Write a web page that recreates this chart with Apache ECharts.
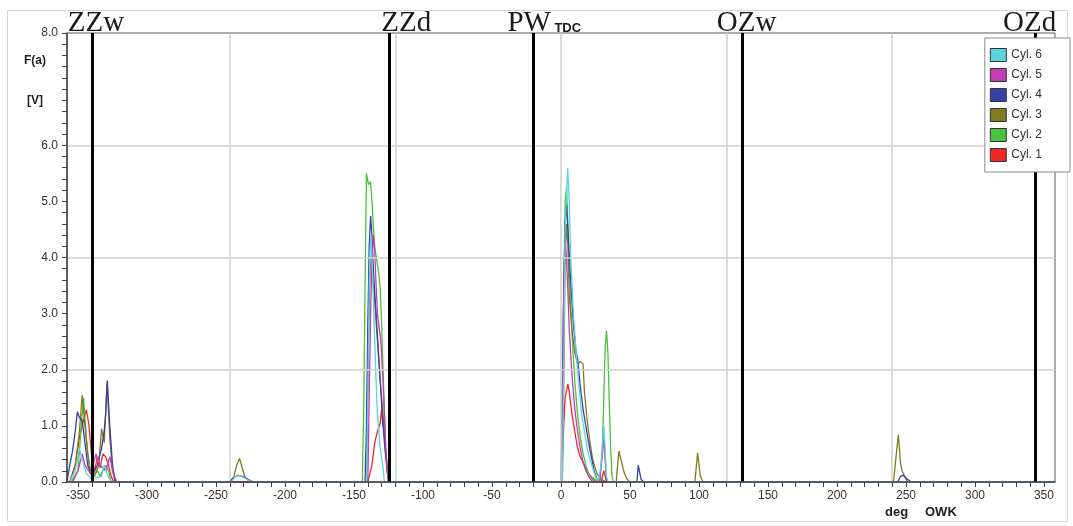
<!DOCTYPE html>
<html><head><meta charset="utf-8">
<script src="https://cdn.jsdelivr.net/npm/echarts@6/dist/echarts.min.js"></script>
<style>html,body{margin:0;padding:0;background:#fff}#c{width:1073px;height:526px}</style>
</head><body><div id="c"></div>
<script>
// ---- data ----
const seriesNames = ['Cyl. 1','Cyl. 2','Cyl. 3','Cyl. 4','Cyl. 5','Cyl. 6'];
const legendOrder = ['Cyl. 6','Cyl. 5','Cyl. 4','Cyl. 3','Cyl. 2','Cyl. 1'];
const seriesColors = ['#f02828','#48c23a','#827a1e','#3442a8','#c23cb4','#5ad2e0'];

const cyl1 = [[-358,0],[-356,0],[-352,0.3],[-349,0.8],[-346,1.1],[-344,1.29],[-342,1.0],[-340,0.4],[-338,0.2],[-336,0.45],[-334,0.25],[-332,0.5],[-330,0.45],[-328,0.3],[-326,0.1],[-324,0],
  [-140,0],[-137,0.3],[-135,0.7],[-133,0.9],[-131,1.05],[-130,1.3],[-129,1.0],[-128,0.9],[-127,0.5],[-125,0.1],[-124,0],
  [0,0],[1,0.4],[2,1.0],[3,1.5],[5,1.75],[6,1.6],[8,1.2],[10,0.9],[12,0.6],[14,0.45],[16,0.35],[18,0.25],[20,0.15],[22,0.08],[25,0],[29,0],[31,0.2],[33,0],[358,0]];
const cyl2 = [[-358,0],[-355,0],[-350,0.2],[-348,0.9],[-346,1.5],[-344,0.8],[-342,0.3],[-340,0.1],[-336,0.2],[-334,0.1],[-330,0.3],[-328,0.2],[-326,0],
  [-144,0],[-143,1.2],[-142,3.5],[-141,5.5],[-139.5,5.3],[-138,5.35],[-137,5.0],[-136,4.56],[-135,4.2],[-133.5,3.95],[-132,3.7],[-131,3.45],[-130,2.8],[-129,2.0],[-128,1.3],[-127,0.6],[-126,0.3],[-125,0.1],[-124,0],
  [0,0],[1,1.5],[2,3.5],[3,5.0],[4,5.25],[5,4.6],[6,3.8],[7,3.2],[8,2.6],[10,1.8],[12,1.2],[14,0.8],[16,0.5],[18,0.3],[20,0.15],[24,0.05],[28,0],[30,0.6],[31,1.5],[32,2.4],[33,2.7],[34,2.3],[35,1.4],[36,0.6],[37,0.1],[38,0],[358,0]];
const cyl3 = [[-358,0],[-356,0],[-352,0.3],[-349,0.9],[-347,1.55],[-345,1.0],[-343,0.5],[-341,0.2],[-338,0.1],[-335,0.3],[-333,0.95],[-331,0.7],[-329,1.78],[-327,0.8],[-325,0.2],[-323,0],
  [-240,0],[-237,0.1],[-235,0.3],[-233,0.42],[-231,0.25],[-229,0.08],[-226,0.02],[-222,0],
  [-141,0],[-140,1.5],[-139,3.2],[-138,4.0],[-137,3.8],[-135,3.2],[-133,2.5],[-131,1.8],[-129,1.2],[-127,0.5],[-125,0],
  [1,0],[2,1.8],[3,4.0],[4,4.6],[5,4.2],[6,3.3],[8,2.7],[10,2.3],[12,2.1],[14,2.15],[16,2.1],[17,1.6],[19,1.1],[21,0.7],[23,0.4],[26,0.15],[29,0.05],[33,0],
  [40,0],[41,0.3],[42,0.55],[44,0.35],[46,0.15],[48,0.05],[50,0],
  [97,0],[99,0.52],[101,0.1],[103,0],
  [241,0],[243,0.5],[244.5,0.84],[246,0.35],[247,0.21],[249,0.1],[251,0],[358,0]];
const cyl4 = [[-358,0],[-356,0.3],[-354,0.55],[-352,0.9],[-350.5,1.25],[-349,1.15],[-347,1.1],[-345,0.7],[-343,0.3],[-340,0.1],[-336,0.3],[-333,0.6],[-331,0.92],[-330,1.2],[-328.8,1.81],[-327,1.0],[-325,0.3],[-323,0],
  [-240,0],[-237,0.08],[-234,0.12],[-231,0.1],[-227,0.05],[-223,0],
  [-142,0],[-141,1.0],[-140,2.8],[-139,4.2],[-138,4.74],[-137,4.4],[-136,3.8],[-134,3.0],[-132,2.2],[-130,1.4],[-128,0.7],[-126,0.2],[-125,0],
  [0,0],[1,1.2],[2,3.4],[3,4.6],[4,4.95],[5,4.5],[7,3.6],[9,2.8],[11,2.3],[12,2.2],[14,1.7],[16,1.3],[18,1.0],[20,0.7],[22,0.45],[24,0.2],[26,0.05],[28,0],
  [55,0],[56,0.3],[58,0.05],[60,0],
  [244,0],[246,0.1],[248,0.12],[251,0.05],[254,0],[358,0]];
const cyl5 = [[-358,0],[-354,0],[-350,0.2],[-347,0.5],[-345,0.3],[-341,0.15],[-337,0.5],[-334,0.3],[-330,0.2],[-327,0.45],[-325,0.2],[-322,0],
  [-140,0],[-139,1.5],[-138,3.0],[-137,4.0],[-136,4.4],[-135,4.1],[-134,3.5],[-133,3.0],[-131,2.6],[-130.3,2.42],[-129,1.8],[-128,1.2],[-127,0.6],[-126,0.2],[-125,0],
  [0,0],[1,1.5],[2,3.5],[3,4.3],[4,4.0],[5,3.4],[6,2.7],[8,1.9],[10,1.3],[12,0.9],[14,0.6],[16,0.35],[18,0.2],[20,0.1],[23,0],[28,0],[30,0.5],[31,0.8],[32,0.4],[33,0],[358,0]];
const cyl6 = [[-358,0],[-356,0],[-352,0.2],[-349,0.6],[-347,0.4],[-344,0.15],[-340,0.05],[-333,0.1],[-331,0.3],[-329,0.15],[-326,0],
  [-239,0],[-236,0.1],[-233,0.12],[-230,0.08],[-226,0.03],[-222,0],
  [-141,0],[-140,1.5],[-139,3.5],[-138,4.4],[-137,4.0],[-136,3.3],[-135,2.5],[-134,1.8],[-133,1.2],[-131,0.6],[-129,0.25],[-128,0],
  [1,0],[2,2.0],[3,4.5],[4.8,5.6],[6,5.0],[7,4.0],[9,3.0],[11,2.3],[13,1.7],[15,1.2],[17,0.9],[19,0.6],[21,0.4],[23,0.25],[25,0.1],[27,0],[29,0.3],[31,1.0],[32,0.6],[33,0.1],[34,0],[358,0]];
const cylData = [cyl1, cyl2, cyl3, cyl4, cyl5, cyl6];

const markerNames = ['ZZw','ZZd','PW','OZw','OZd'];
const markerDeg = [-340,-124.5,-20,131,343.5];
const markerSub = ['','','TDC','',''];
const gridDeg = [-240,-120,0,120,240];
const gridVal = [2,4,6];

const xLabelValues = [-350,-300,-250,-200,-150,-100,-50,0,50,100,150,200,250,300,350];
const xTickValues = [-350,-340,-330,-320,-310,-300,-290,-280,-270,-260,-250,-240,-230,-220,-210,-200,-190,-180,-170,-160,-150,-140,-130,-120,-110,-100,-90,-80,-70,-60,-50,-40,-30,-20,-10,0,10,20,30,40,50,60,70,80,90,100,110,120,130,140,150,160,170,180,190,200,210,220,230,240,250,260,270,280,290,300,310,320,330,340,350];
const yLabelValues = [0,1,2,3,4,5,6,8];
const yTickValues = [0,0.2,0.4,0.6,0.8,1,1.2,1.4,1.6,1.8,2,2.2,2.4,2.6,2.8,3,3.2,3.4,3.6,3.8,4,4.2,4.4,4.6,4.8,5,5.2,5.4,5.6,5.8,6,6.2,6.4,6.6,6.8,7,7.2,7.4,7.6,7.8,8];
const yUnitTexts = ['F(a)','[V]'];
const yUnitPos = [7.5, 6.8];
const xAxisNameParts = ['deg','OWK'];

// ---- chart ----
const FONT = '"Liberation Sans", Arial, sans-serif';
const chart = echarts.init(document.getElementById('c'), null, {renderer:'canvas'});

const series = [{
  name: 'bg', type: 'line', data: [], z: 1, silent: true,
  markLine: {
    silent: true, symbol: 'none', animation: false,
    label: {show: false},
    lineStyle: {color: '#cfcfcf', width: 1.5, type: 'solid'},
    emphasis: {disabled: true},
    data: gridDeg.map(v => ({xAxis: v})).concat(gridVal.map(v => ({yAxis: v})))
  }
}];
seriesNames.forEach((n, i) => {
  series.push({
    name: n, type: 'line', data: cylData[i], showSymbol: false, symbol: 'none',
    z: 3, color: seriesColors[i],
    lineStyle: {width: 1.3, color: seriesColors[i]},
    emphasis: {disabled: true}
  });
});
series.push({
  name: 'markers', type: 'line', data: [], z: 4, silent: true,
  markLine: {
    silent: true, symbol: 'none', animation: false,
    label: {show: false},
    lineStyle: {color: '#000', width: 3, type: 'solid'},
    emphasis: {disabled: true},
    data: markerDeg.map(v => ({xAxis: v}))
  }
});

chart.setOption({
  animation: false,
  backgroundColor: '#fff',
  grid: {left: 67, right: 18, top: 33, bottom: 44, show: true, borderColor: '#5a5a5a', borderWidth: 1, backgroundColor: 'transparent'},
  xAxis: {
    type: 'value', min: -358, max: 358, z: 6,
    axisLine: {onZero: false, lineStyle: {color: '#444', width: 1.5}},
    axisTick: {show: true, customValues: xTickValues, length: 5, lineStyle: {color: '#444'}},
    axisLabel: {customValues: xLabelValues, color: '#333', fontSize: 12, fontFamily: FONT, margin: 8},
    splitLine: {show: false}
  },
  yAxis: {
    type: 'value', min: 0, max: 8, z: 6,
    axisLine: {show: true, onZero: false, lineStyle: {color: '#444', width: 1.5}},
    axisTick: {show: true, customValues: yTickValues, length: 5, lineStyle: {color: '#444'}},
    axisLabel: {customValues: yLabelValues, color: '#333', fontSize: 12, fontFamily: FONT, margin: 9,
      formatter: v => v.toFixed(1)},
    splitLine: {show: false}
  },
  legend: {
    data: legendOrder, orient: 'vertical', right: 3, top: 38, z: 20,
    icon: 'rect', itemWidth: 16, itemHeight: 13, itemGap: 6,
    padding: [10, 28, 10, 5],
    backgroundColor: '#fff', borderColor: '#8a8a8a', borderWidth: 1,
    itemStyle: {borderColor: '#333', borderWidth: 1},
    textStyle: {color: '#333', fontSize: 12, fontFamily: FONT},
    selectedMode: false
  },
  series: series
});

// ---- text overlays positioned through the axes ----
const labelDx = [-24, -8, -26, -25, -32];
const topY = chart.convertToPixel({yAxisIndex: 0}, 8);
const graphics = [{
  type: 'rect', z: -10, silent: true,
  shape: {x: 7.5, y: 10.5, width: 1060, height: 511},
  style: {fill: 'none', stroke: '#d4d4d4', lineWidth: 1}
}];
markerNames.forEach((n, i) => {
  const px = chart.convertToPixel({xAxisIndex: 0}, markerDeg[i]);
  const x0 = px + labelDx[i];
  graphics.push({
    type: 'text', z: 100, silent: true, x: x0, y: topY - 9.8,
    style: {text: n, font: '29px "Liberation Serif", "Times New Roman", serif', fill: '#1a1a1a', align: 'left', verticalAlign: 'middle'}
  });
  if (markerSub[i]) {
    graphics.push({
      type: 'text', z: 100, silent: true, x: x0 + 47, y: topY - 5,
      style: {text: markerSub[i], font: 'bold 13px ' + FONT, fill: '#1a1a1a', align: 'left', verticalAlign: 'middle'}
    });
  }
});
yUnitTexts.forEach((t, i) => {
  graphics.push({
    type: 'text', silent: true, x: 35, y: chart.convertToPixel({yAxisIndex: 0}, yUnitPos[i]),
    style: {text: t, font: 'bold 12px ' + FONT, fill: '#222', align: 'center', verticalAlign: 'middle'}
  });
});
graphics.push({type: 'text', silent: true, x: 885, y: 512,
  style: {text: xAxisNameParts[0], font: 'bold 13px ' + FONT, fill: '#222', align: 'left', verticalAlign: 'middle'}});
graphics.push({type: 'text', silent: true, x: 925, y: 512,
  style: {text: xAxisNameParts[1], font: 'bold 13px ' + FONT, fill: '#222', align: 'left', verticalAlign: 'middle'}});
chart.setOption({graphic: graphics});
</script>
</body></html>
